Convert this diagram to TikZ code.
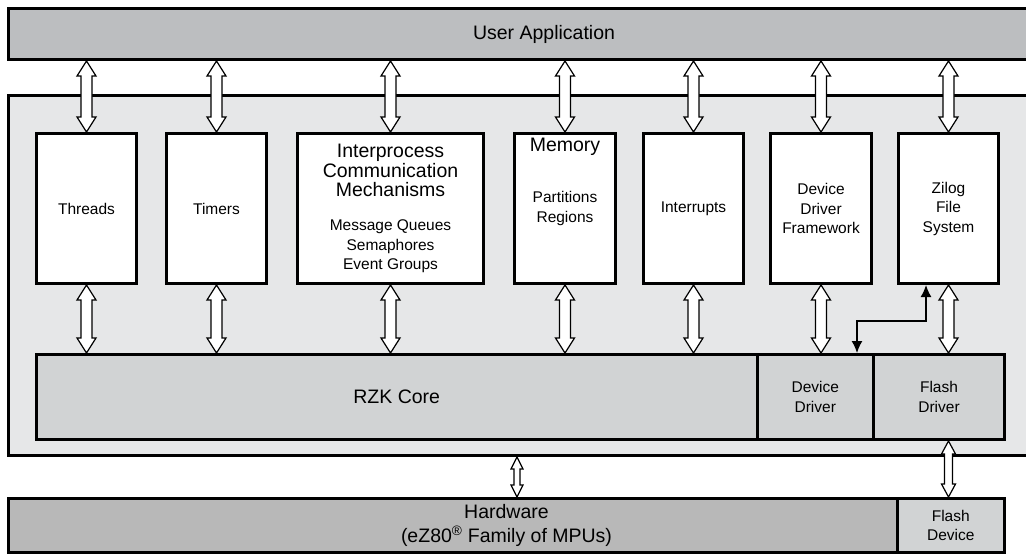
\documentclass[tikz,border=0pt]{standalone}
\usepackage{fontspec}
\setmainfont{Liberation Sans}
\usetikzlibrary{arrows.meta,calc}

\definecolor{appgray}{RGB}{188,190,192}
\definecolor{bggray}{RGB}{230,231,232}
\definecolor{coregray}{RGB}{209,211,212}
\definecolor{hwgray}{RGB}{184,184,184}

\newcommand{\bigtxt}{\fontsize{19.5}{20}\selectfont}
\newcommand{\smalltxt}{\fontsize{15.5}{19.5}\selectfont}

\tikzset{
  box/.style={draw,line width=3pt,inner sep=2pt,align=center},
  module/.style={box,fill=white,minimum width=100pt,minimum height=150pt,font=\smalltxt},
  arrowbody/.style={draw,fill=white,line width=1.2pt,line join=miter},
  dbl/.style n args={3}{to path={let \p1=(\tikztostart), \p2=(\tikztotarget) in
    (\x1,\y1) -- (\x1+#1,\y1-#3) -- (\x1+#2,\y1-#3) -- (\x1+#2,\y2+#3) -- (\x1+#1,\y2+#3)
    -- (\x1,\y2) -- (\x1-#1,\y2+#3) -- (\x1-#2,\y2+#3) -- (\x1-#2,\y1-#3) -- (\x1-#1,\y1-#3) -- cycle}},
  bigdbl/.style={dbl={9.5pt}{5.5pt}{15pt}}
}

\begin{document}
\begin{tikzpicture}[x=1pt,y=-1pt]
\useasboundingbox (0,0) rectangle (1026,555);
\clip (0,0) rectangle (1026,555);

%kernel area
\node[box,fill=bggray,minimum width=1071pt,minimum height=360pt] (kernel) at (544,275.5) {};

%user application
\node[box,fill=appgray,minimum width=1071pt,minimum height=51pt,font=\bigtxt] (app) at (544,34) {User Application};

%modules
\node[module] (thr) at (86.5,208.5) {Threads};
\node[module] (tim) at (216.5,208.5) {Timers};
\node[module,minimum width=186pt] (ipc) at (390.5,208.5)
  {{\bigtxt Interprocess}\\{\bigtxt Communication}\\{\bigtxt Mechanisms}\\[14.5pt]Message Queues\\Semaphores\\Event Groups};
\node[module,minimum width=101pt,label={[font=\bigtxt,anchor=north,yshift=-2.5pt]north:Memory}] (mem) at (565,208.5) {Partitions\\Regions};
\node[module] (irq) at (693.5,208.5) {Interrupts};
\node[module,minimum width=101pt] (ddf) at (821,208.5) {Device\\Driver\\Framework};
\node[module] (zfs) at (948.5,208.5) {Zilog\\File\\System};

%core and drivers
\node[box,fill=coregray,minimum width=720.5pt,minimum height=85pt,font=\bigtxt] (core) at (396.75,397) {RZK Core};
\node[box,fill=coregray,minimum width=116.5pt,minimum height=85pt,font=\smalltxt] (ddrv) at (815.25,397) {Device\\Driver};
\node[box,fill=coregray,minimum width=131pt,minimum height=85pt,font=\smalltxt] (fdrv) at (939,397) {Flash\\Driver};

%hardware
\node[box,fill=hwgray,minimum width=996pt,minimum height=54pt,font={\fontsize{19.5}{24}\selectfont}] (hw) at (506.5,525.5)
  {Hardware\\(eZ80\textsuperscript{\textregistered} Family of MPUs)};
\node[box,fill=coregray,minimum width=107.5pt,minimum height=54pt,font=\smalltxt] (fdev) at (950.75,525.5) {Flash\\Device};

%arrows
\foreach \m in {thr,tim,ipc,mem,irq,ddf,zfs}
  \draw[arrowbody] (app.south -| \m.north) to[bigdbl] (\m.north);
\foreach \m/\t in {thr/core,tim/core,ipc/core,mem/core,irq/core,ddf/ddrv,zfs/fdrv}
  \draw[arrowbody] (\m.south) to[bigdbl] (\t.north -| \m.south);

\coordinate (busx) at (517,0);
\draw[arrowbody] (kernel.south -| busx) to[dbl={6pt}{3pt}{12pt}] (hw.north -| busx);
\draw[arrowbody] (fdrv.south -| zfs.south) to[dbl={7pt}{4pt}{13pt}] (fdev.north -| zfs.south);

\coordinate (bend) at (926,321);
\draw[line width=1.5pt,{Latex[length=12pt,width=11pt]}-{Latex[length=12pt,width=11pt]}]
  ([xshift=41.75pt]ddrv.north) |- (bend) -- ([xshift=-22.5pt]zfs.south);
\end{tikzpicture}
\end{document}
